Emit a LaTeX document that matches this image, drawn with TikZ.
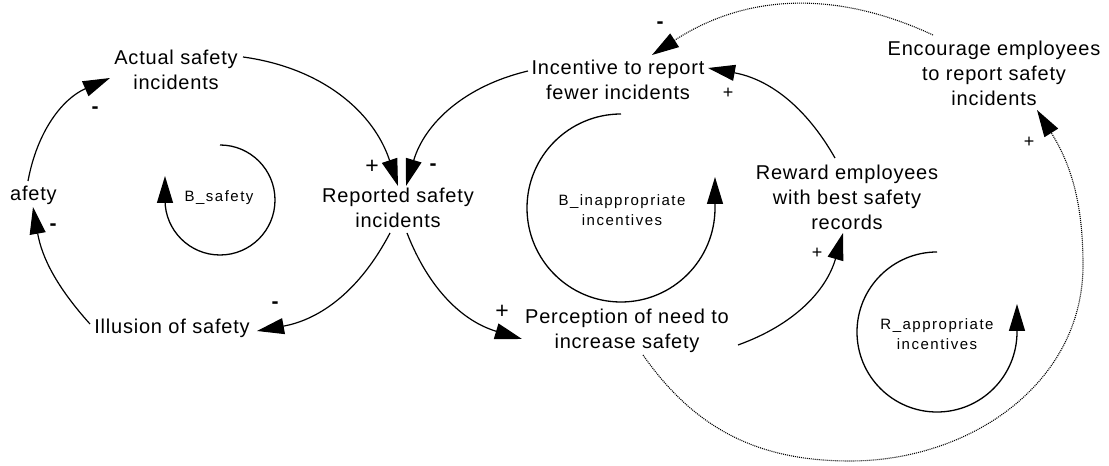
\documentclass[tikz,border=0pt]{standalone}
\usepackage{fontspec}
\setmainfont{Liberation Sans}[LetterSpace=4]
\newfontfamily\loopfont{Liberation Sans}[LetterSpace=10]
\usetikzlibrary{arrows.meta}
\begin{document}
\begin{tikzpicture}[x=1pt,y=1pt,
  var/.style={align=center, font=\fontsize{20}{25}\selectfont, inner sep=0pt},
  looplabel/.style={align=center, font=\loopfont\fontsize{15}{20}\selectfont, inner sep=0pt},
  pol/.style={font=\fontsize{23}{23}\selectfont, inner sep=0pt},
  polsmall/.style={font=\fontsize{18}{18}\selectfont, inner sep=0pt},
  neg/.style={font=\bfseries\fontsize{21}{21}\selectfont, inner sep=0pt},
  link/.style={line width=1.2pt, -{Triangle[length=27pt,width=16pt]}},
  dotlink/.style={line width=1.1pt, dash pattern=on 1pt off 1pt, -{Triangle[length=27pt,width=16pt]}},
  loopline/.style={line width=1.3pt, -{Triangle[length=27pt,width=16pt]}}
]
\useasboundingbox (0,0) rectangle (1109,466);

% variables
\node[var] (act) at (176,396) {Actual safety\\incidents};
\node[var] (rep) at (398,258) {Reported safety\\incidents};
\node[var] (inc) at (618,386) {Incentive to report\\fewer incidents};
\node[var] (rew) at (847,269) {Reward employees\\with best safety\\records};
\node[var] (enc) at (994,393) {Encourage employees\\to report safety\\incidents};
\node[var] (per) at (627,135) {Perception of need to\\increase safety};
\node[var] (ill) at (172,138) {Illusion of safety};
\node[var, anchor=west] (saf) at (10,271) {afety};

% connector end points
\coordinate (s1) at (243,409); \coordinate (e1) at (398,280);
\coordinate (s2) at (528,395); \coordinate (e2) at (406,280);
\coordinate (s3) at (390,233); \coordinate (e3) at (257,135);
\coordinate (s4) at (90,142);  \coordinate (e4) at (33,259);
\coordinate (s5) at (28,285);  \coordinate (e5) at (110,388);
\coordinate (s6) at (407,233); \coordinate (e6) at (522,127);
\coordinate (s7) at (738,121); \coordinate (e7) at (843,233);
\coordinate (s8) at (835,308); \coordinate (e8) at (708,398);
\coordinate (s9) at (933,431); \coordinate (e9) at (652,411);
\coordinate (s10) at (643,111); \coordinate (w1) at (850,5);
\coordinate (w2) at (1083,201); \coordinate (e10) at (1037,356);

% connectors
\draw[link] (s1) to[bend left=32] (e1);
\draw[link] (s2) to[bend right=30] (e2);
\draw[link] (s3) to[bend left=26] (e3);
\draw[link] (s4) to[bend left=16] (e4);
\draw[link] (s5) to[bend left=28] (e5);
\draw[link] (s6) to[bend right=26] (e6);
\draw[link] (s7) to[bend right=27] (e7);
\draw[link] (s8) to[bend right=25] (e8);
\draw[dotlink] (s9) to[bend right=29] (e9);
\draw[dotlink] (s10) to[out=-55,in=180] (w1) to[out=0,in=-90] (w2) to[out=90,in=-58] (e10);

% polarities
\node[pol] (p1) at (372,299) {+};
\node[neg] (p2) at (433,299) {-};
\node[neg] (p3) at (275,161) {-};
\node[neg] (p4) at (53,239) {-};
\node[neg] (p5) at (95,356) {-};
\node[pol] (p6) at (502,154) {+};
\node[polsmall] (p7) at (817,213) {+};
\node[polsmall] (p8) at (728,373) {+};
\node[neg] (p9) at (660,441) {-};
\node[polsmall] (p10) at (1029,324) {+};

% loop indicators
\coordinate (l1) at (220,321);
\draw[loopline] (l1) arc[start angle=90, end angle=-180, radius=55] -- ++(0,24);
\node[looplabel] (lb1) at (219,268) {B\_safety};

\coordinate (l2) at (621,352);
\draw[loopline] (l2) arc[start angle=90, end angle=360, radius=94] -- ++(0,31);
\node[looplabel] (lb2) at (622,256) {B\_inappropriate\\incentives};

\coordinate (l3) at (937,214);
\draw[loopline] (l3) arc[start angle=90, end angle=360, radius=80] -- ++(0,28);
\node[looplabel] (lb3) at (937,132) {R\_appropriate\\incentives};
\end{tikzpicture}
\end{document}
